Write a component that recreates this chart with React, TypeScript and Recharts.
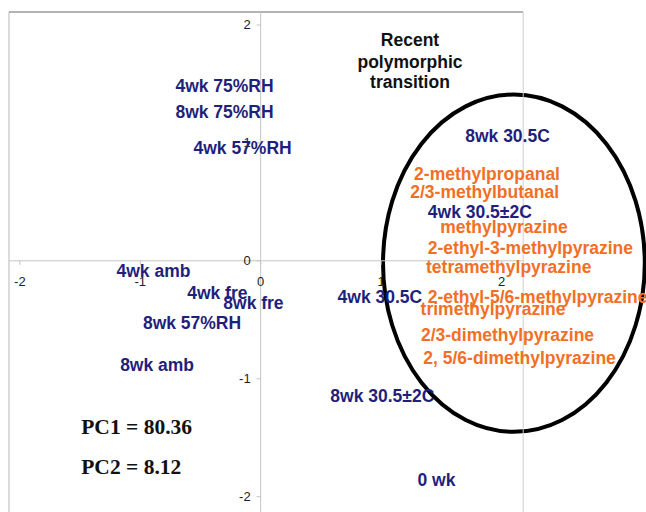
import React from "react";
import {
  ScatterChart,
  Scatter,
  XAxis,
  YAxis,
  ReferenceLine,
  ReferenceDot,
  ReferenceArea,
} from "recharts";

// PCA scores: storage conditions
const sampleNames = [
  "4wk 75%RH", "8wk 75%RH", "4wk 57%RH", "8wk 30.5C", "4wk 30.5±2C",
  "4wk 30.5C", "8wk 30.5±2C", "0 wk", "4wk amb", "4wk fre",
  "8wk fre", "8wk 57%RH", "8wk amb",
];
const sampleX = [-0.3, -0.3, -0.15, 2.05, 1.82, 0.99, 1.01, 1.46, -0.89, -0.36, -0.06, -0.57, -0.86];
const sampleY = [1.48, 1.26, 0.96, 1.06, 0.41, -0.31, -1.15, -1.86, -0.09, -0.27, -0.36, -0.53, -0.88];

// PCA loadings: volatile compounds
const compoundNames = [
  "2-methylpropanal", "2/3-methylbutanal", "methylpyrazine",
  "2-ethyl-3-methylpyrazine", "tetramethylpyrazine", "2-ethyl-5/6-methylpyrazine",
  "trimethylpyrazine", "2/3-dimethylpyrazine", "2, 5/6-dimethylpyrazine",
];
const compoundX = [1.88, 1.86, 2.02, 2.24, 2.06, 2.3, 1.93, 2.05, 2.15];
const compoundY = [0.74, 0.58, 0.29, 0.11, -0.05, -0.31, -0.41, -0.63, -0.82];

const xTicks = [-2, -1, 0, 1, 2];
const yTicks = [-2, -1, 0, 1, 2];

const varianceLines = ["PC1 = 80.36", "PC2 = 8.12"];
const varianceX = -1.49;
const varianceY = [-1.41, -1.75];

const noteLines = ["Recent", "polymorphic", "transition"];
const noteX = 1.24;
const noteY = [1.87, 1.69, 1.52];

// cluster outline (data bounds)
const clusterX = [1.016, 3.19];
const clusterY = [-1.45, 1.41];

const X_DOMAIN: [number, number] = [-2.09, 3.2];
const Y_DOMAIN: [number, number] = [-2.13, 2.11];
const FRAME_RIGHT = 2.18;

const samples = sampleNames.map((name, i) => ({ name, x: sampleX[i], y: sampleY[i] }));
const compounds = compoundNames.map((name, i) => ({ name, x: compoundX[i], y: compoundY[i] }));

const labelFont = "'Liberation Sans', Arial, sans-serif";

const makeLabel = (color: string) => (props: any) => (
  <text
    x={props.cx}
    y={props.cy}
    textAnchor="middle"
    dominantBaseline="central"
    fontFamily={labelFont}
    fontWeight="bold"
    fontSize={17.5}
    fill={color}
  >
    {props.payload.name}
  </text>
);

const axisColor = "#c4c4c4";

export default function App() {
  return (
    <div style={{ position: "absolute", left: 0, top: 0, width: 646, height: 512, background: "#fff" }}>
      <ScatterChart width={646} height={512} margin={{ top: 12, right: 0, bottom: 0, left: 9 }}>
        <XAxis type="number" dataKey="x" domain={X_DOMAIN} allowDataOverflow hide />
        <YAxis type="number" dataKey="y" domain={Y_DOMAIN} allowDataOverflow hide />

        {/* plot frame */}
        <ReferenceLine x={X_DOMAIN[0]} stroke="#cfcfcf" strokeWidth={1.5} />
        <ReferenceLine
          segment={[{ x: X_DOMAIN[0], y: Y_DOMAIN[1] }, { x: FRAME_RIGHT, y: Y_DOMAIN[1] }]}
          stroke="#9a9a9a"
          strokeWidth={1.5}
        />
        <ReferenceLine x={FRAME_RIGHT} stroke="#cfcfcf" strokeWidth={1} />

        {/* axes through the origin */}
        <ReferenceLine
          segment={[{ x: X_DOMAIN[0], y: 0 }, { x: FRAME_RIGHT, y: 0 }]}
          stroke={axisColor}
          strokeWidth={1}
        />
        <ReferenceLine x={0} stroke={axisColor} strokeWidth={1} />

        {xTicks.map((t) => (
          <ReferenceDot
            key={`xt${t}`}
            x={t}
            y={0}
            r={0}
            shape={(p: any) => (
              <g>
                <line x1={p.cx} y1={p.cy} x2={p.cx} y2={p.cy + 4} stroke={axisColor} />
                <text
                  x={p.cx}
                  y={p.cy + 21}
                  textAnchor="middle"
                  dominantBaseline="central"
                  fontFamily={labelFont}
                  fontSize={13}
                  fill="#222"
                >
                  {t}
                </text>
              </g>
            )}
          />
        ))}
        {yTicks.map((t) => (
          <ReferenceDot
            key={`yt${t}`}
            x={0}
            y={t}
            r={0}
            shape={(p: any) => (
              <g>
                <line x1={p.cx - 4} y1={p.cy} x2={p.cx} y2={p.cy} stroke={axisColor} />
                <text
                  x={p.cx - 10}
                  y={p.cy}
                  textAnchor="end"
                  dominantBaseline="central"
                  fontFamily={labelFont}
                  fontSize={13}
                  fill="#222"
                >
                  {t}
                </text>
              </g>
            )}
          />
        ))}

        <ReferenceArea
          x1={clusterX[0]}
          x2={clusterX[1]}
          y1={clusterY[0]}
          y2={clusterY[1]}
          ifOverflow="visible"
          shape={(p: any) => (
            <ellipse
              cx={p.x + p.width / 2}
              cy={p.y + p.height / 2}
              rx={p.width / 2}
              ry={p.height / 2}
              fill="none"
              stroke="#000"
              strokeWidth={4}
            />
          )}
        />

        {noteLines.map((line, i) => (
          <ReferenceDot
            key={line}
            x={noteX}
            y={noteY[i]}
            r={0}
            shape={(p: any) => (
              <text
                x={p.cx}
                y={p.cy}
                textAnchor="middle"
                dominantBaseline="central"
                fontFamily={labelFont}
                fontWeight="bold"
                fontSize={17.5}
                fill="#111"
              >
                {line}
              </text>
            )}
          />
        ))}

        {varianceLines.map((line, i) => (
          <ReferenceDot
            key={line}
            x={varianceX}
            y={varianceY[i]}
            r={0}
            shape={(p: any) => (
              <text
                x={p.cx}
                y={p.cy}
                textAnchor="start"
                dominantBaseline="central"
                fontFamily="'Liberation Serif', 'Times New Roman', serif"
                fontWeight="bold"
                fontSize={21.5}
                fill="#111"
              >
                {line}
              </text>
            )}
          />
        ))}

        <Scatter data={samples} shape={makeLabel("#1f1f7c")} isAnimationActive={false} />
        <Scatter data={compounds} shape={makeLabel("#f26f26")} isAnimationActive={false} />
      </ScatterChart>
    </div>
  );
}
